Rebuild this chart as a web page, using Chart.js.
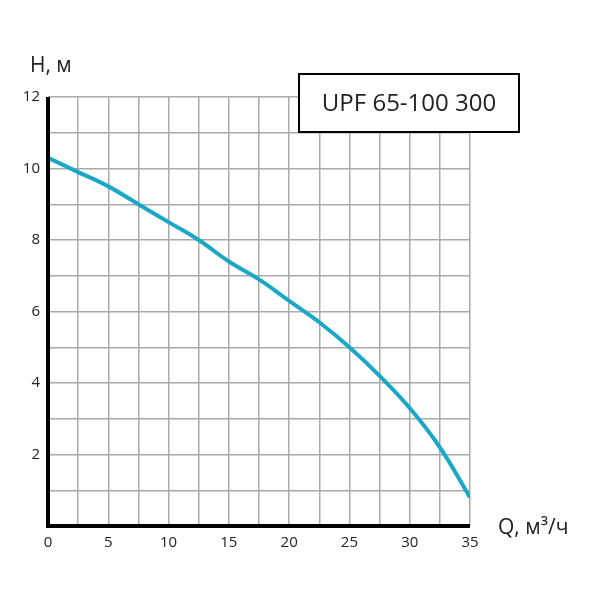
<!DOCTYPE html>
<html><head><meta charset="utf-8">
<script src="https://cdn.jsdelivr.net/npm/chart.js@4"></script>
<style>body{margin:0;background:#fff}#wrap{width:600px;height:600px}</style>
</head><body><div id="wrap"><canvas id="c"></canvas></div>
<script>
const flow = [0, 2.5, 5, 7.5, 10, 12.5, 15, 17.5, 20, 22.5, 25, 27.5, 30, 32.5, 35];
const head = [10.3, 9.9, 9.5, 9.0, 8.5, 8.0, 7.4, 6.9, 6.3, 5.7, 5.0, 4.2, 3.3, 2.2, 0.8];
const title = 'UPF 65-100 300';
const yLabel = 'H, м';
const xLabel = 'Q, м³/ч';
const font = '"Open Sans", sans-serif';

const overlay = {
    id: 'overlay',
    afterDraw(chart) {
        const ctx = chart.ctx, a = chart.chartArea;
        ctx.save();
        ctx.strokeStyle = '#000';
        ctx.lineWidth = 4;
        ctx.beginPath();
        ctx.moveTo(a.left, a.top);
        ctx.lineTo(a.left, a.bottom);
        ctx.lineTo(a.right, a.bottom);
        ctx.stroke();
        // title box
        ctx.fillStyle = '#fff';
        ctx.fillRect(299, 74, 220, 58);
        ctx.lineWidth = 2;
        ctx.strokeRect(299, 74, 220, 58);
        ctx.fillStyle = '#222';
        ctx.font = '24px ' + font;
        ctx.textAlign = 'center';
        ctx.textBaseline = 'middle';
        ctx.fillText(title, 409, 104);
        ctx.font = '21px ' + font;
        ctx.textAlign = 'left';
        ctx.fillText(yLabel, 30, 66);
        ctx.fillText(xLabel, 498, 528);
        ctx.restore();
    }
};

new Chart(document.getElementById('c'), {
    type: 'line',
    data: {
        datasets: [{
            data: flow.map((q, i) => ({ x: q, y: head[i] })),
            borderColor: '#1aa8c8',
            borderWidth: 4,
            pointRadius: 0,
            tension: 0.4,
            fill: false
        }]
    },
    options: {
        responsive: true,
        maintainAspectRatio: false,
        animation: false,
        layout: { padding: { top: 97, right: 130, left: 0, bottom: 40 } },
        scales: {
            x: {
                type: 'linear', min: 0, max: 35,
                border: { display: false },
                grid: { color: '#aaa', lineWidth: 1.5, drawTicks: false },
                ticks: {
                    stepSize: 2.5, autoSkip: false, maxRotation: 0, padding: 8,
                    color: '#222', font: { family: font, size: 15 },
                    callback: v => v % 5 === 0 ? v : ''
                }
            },
            y: {
                min: 0, max: 12,
                border: { display: false },
                afterFit: s => { s.width = 48; },
                grid: { color: '#aaa', lineWidth: 1.5, drawTicks: false },
                ticks: {
                    stepSize: 1, autoSkip: false, padding: 8,
                    color: '#222', font: { family: font, size: 15 },
                    callback: v => (v % 2 === 0 && v !== 0) ? v : ''
                }
            }
        },
        plugins: { legend: { display: false }, tooltip: { enabled: false } }
    },
    plugins: [overlay]
});
</script></body></html>
